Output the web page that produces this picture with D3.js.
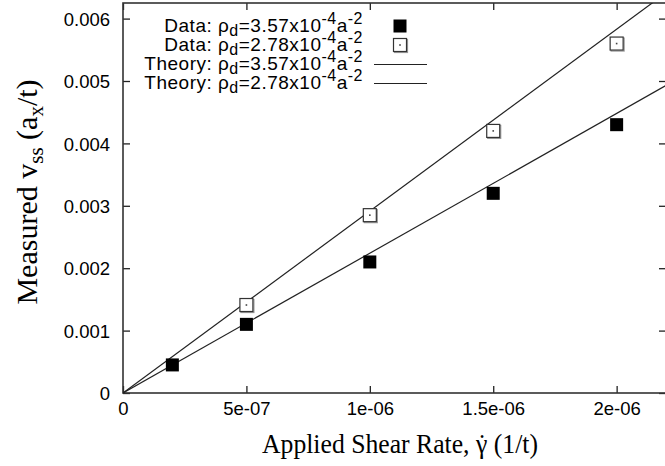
<!DOCTYPE html>
<html>
<head>
<meta charset="utf-8">
<script src="https://cdn.jsdelivr.net/npm/d3@7/dist/d3.min.js"></script>
<style>
  body { margin: 0; background: #fff; }
  .tick text { font-family: "Liberation Sans", Arial, sans-serif; font-size: 18.5px; fill: #000; }
  .legend text { font-family: "Liberation Sans", Arial, sans-serif; font-size: 19px; letter-spacing: 0.5px; fill: #000; }
  .title { font-family: "Liberation Serif", "Times New Roman", serif; font-size: 28px; fill: #000; }
</style>
</head>
<body>
<svg id="chart" width="665" height="466"></svg>
<script>
// data
const shearRate = [2e-7, 5e-7, 1e-6, 1.5e-6, 2e-6];
const vDense = [0.00045, 0.0011, 0.0021, 0.0032, 0.0043];   // rho_d = 3.57e-4
const vSparse = [null, 0.00141, 0.00285, 0.0042, 0.0056];   // rho_d = 2.78e-4
const theorySlopes = [2240, 2915];                          // 3.57e-4, 2.78e-4

const xTicks = [0, 5e-7, 1e-6, 1.5e-6, 2e-6];
const xTickLabels = ["0", "5e-07", "1e-06", "1.5e-06", "2e-06"];
const yTicks = [0, 0.001, 0.002, 0.003, 0.004, 0.005, 0.006];
const yTickLabels = ["0", "0.001", "0.002", "0.003", "0.004", "0.005", "0.006"];
const legendDensities = ["3.57", "2.78", "3.57", "2.78"];
const legendKinds = ["Data: ", "Data: ", "Theory: ", "Theory: "];

const svg = d3.select("#chart");
const margin = { top: 3, left: 123, right: 666, bottom: 393 };

const x = d3.scaleLinear().domain([0, 2.2e-6]).range([margin.left, margin.right]);
const y = d3.scaleLinear().domain([0, 0.00625]).range([margin.bottom, margin.top]);

const ink = "#222";

// axes, ticks pointing inwards
const xAxis = svg.append("g")
    .attr("transform", "translate(0," + margin.bottom + ")")
    .call(d3.axisBottom(x).tickValues(xTicks).tickSize(-7).tickFormat((d, i) => xTickLabels[i]));
xAxis.selectAll("text").attr("y", 22).attr("dy", 0);

const yAxis = svg.append("g")
    .attr("transform", "translate(" + margin.left + ",0)")
    .call(d3.axisLeft(y).tickValues(yTicks).tickSize(-7).tickFormat((d, i) => yTickLabels[i]));
yAxis.selectAll("text").attr("x", -13).attr("dy", "0.36em");

// mirror ticks
svg.append("g")
    .attr("transform", "translate(0," + margin.top + ")")
    .call(d3.axisTop(x).tickValues(xTicks).tickSize(-7).tickFormat(""));
svg.append("g")
    .attr("transform", "translate(" + margin.right + ",0)")
    .call(d3.axisRight(y).tickValues(yTicks).tickSize(-7).tickFormat(""));

svg.selectAll(".domain").remove();
svg.selectAll(".tick line").attr("stroke", ink).attr("stroke-width", 1.3);

// frame
svg.append("rect")
    .attr("x", margin.left).attr("y", margin.top)
    .attr("width", margin.right - margin.left).attr("height", margin.bottom - margin.top)
    .attr("fill", "none").attr("stroke", "#333").attr("stroke-width", 1.6);

// clip
svg.append("clipPath").attr("id", "clip").append("rect")
    .attr("x", margin.left).attr("y", margin.top)
    .attr("width", margin.right - margin.left).attr("height", margin.bottom - margin.top);

const plot = svg.append("g").attr("clip-path", "url(#clip)");

// theory lines
const xMax = x.domain()[1];
theorySlopes.forEach(k => {
    plot.append("line")
        .attr("x1", x(0)).attr("y1", y(0))
        .attr("x2", x(xMax)).attr("y2", y(k * xMax))
        .attr("stroke", ink).attr("stroke-width", 1.2);
});

// open squares
function openSquare(g, cx, cy) {
    g.append("rect").attr("x", cx - 5.5).attr("y", cy - 5.5).attr("width", 13).attr("height", 13)
        .attr("fill", "none").attr("stroke", "#999").attr("stroke-width", 1.2);
    g.append("rect").attr("x", cx - 6.5).attr("y", cy - 6.5).attr("width", 13).attr("height", 13)
        .attr("fill", "#fff").attr("stroke", "#333").attr("stroke-width", 1.2);
    g.append("rect").attr("x", cx - 0.8).attr("y", cy - 0.8).attr("width", 1.6).attr("height", 1.6)
        .attr("fill", "#444");
}

shearRate.forEach((g, i) => {
    if (vSparse[i] != null) openSquare(plot, x(g), y(vSparse[i]));
});

plot.selectAll(".filled")
    .data(shearRate)
    .enter().append("rect")
    .attr("class", "filled")
    .attr("x", (d) => x(d) - 6.5)
    .attr("y", (d, i) => y(vDense[i]) - 6.5)
    .attr("width", 13).attr("height", 13)
    .attr("fill", "#000");

// legend
const legend = svg.append("g").attr("class", "legend");
const rowY = [32, 51, 70, 89];
legendKinds.forEach((kind, i) => {
    const t = legend.append("text")
        .attr("x", 363).attr("y", rowY[i]).attr("text-anchor", "end");
    t.append("tspan").text(kind + "ρ");
    t.append("tspan").attr("font-size", "16px").attr("dy", 4).text("d");
    t.append("tspan").attr("dy", -4).text("=" + legendDensities[i] + "x10");
    t.append("tspan").attr("font-size", "16px").attr("dy", -8).text("-4");
    t.append("tspan").attr("dy", 8).text("a");
    t.append("tspan").attr("font-size", "16px").attr("dy", -8).text("-2");
});
legend.append("rect").attr("x", 393.5).attr("y", rowY[0] - 12.5).attr("width", 13).attr("height", 13).attr("fill", "#000");
openSquare(legend, 400, rowY[1] - 6);
[2, 3].forEach(i => {
    legend.append("line")
        .attr("x1", 374).attr("x2", 427)
        .attr("y1", rowY[i] - 5.5).attr("y2", rowY[i] - 5.5)
        .attr("stroke", ink).attr("stroke-width", 1.2);
});

// axis titles
const xt = svg.append("text").attr("class", "title")
    .attr("x", 400).attr("y", 453).attr("text-anchor", "middle")
    .attr("textLength", 276).attr("lengthAdjust", "spacingAndGlyphs");
xt.append("tspan").text("Applied Shear Rate, γ");
xt.append("tspan").attr("dx", -10.4).text("˙");
xt.append("tspan").attr("dx", 1.1).text(" (1/t)");

const yt = svg.append("text").attr("class", "title").style("font-size", "30px")
    .attr("transform", "translate(37,192) rotate(-90)").attr("text-anchor", "middle");
yt.append("tspan").text("Measured v");
yt.append("tspan").attr("font-size", "21px").attr("dy", 6).text("ss");
yt.append("tspan").attr("dy", -6).text(" (a");
yt.append("tspan").attr("font-size", "21px").attr("dy", 6).text("x");
yt.append("tspan").attr("dy", -6).text("/t)");
</script>
</body>
</html>
